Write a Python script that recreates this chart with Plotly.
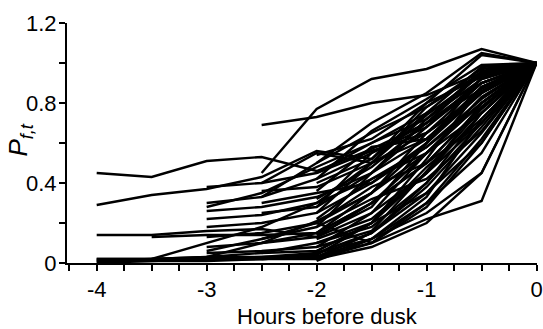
import plotly.graph_objects as go

hours = [-4, -3.5, -3, -2.5, -2, -1.5, -1, -0.5, 0]
N = None

# Each series: P_f,t at each hour (None = not yet observed)
s01 = [0.45, 0.43, 0.51, 0.53, 0.46, 0.57, 0.70, 0.87, 1.0]
s02 = [0.29, 0.34, 0.37, 0.43, 0.56, 0.52, 0.75, 0.90, 1.0]
s03 = [0.14, 0.14, 0.16, 0.17, 0.13, 0.30, 0.55, 0.80, 1.0]
s04 = [0.02, 0.02, 0.03, 0.03, 0.05, 0.12, 0.30, 0.62, 1.0]
s05 = [0.01, 0.01, 0.02, 0.02, 0.02, 0.10, 0.22, 0.31, 1.0]
s06 = [0.01, 0.02, 0.03, 0.10, 0.21, 0.35, 0.55, 0.75, 1.0]
s07 = [0.00, 0.01, 0.01, 0.02, 0.03, 0.15, 0.40, 0.70, 1.0]
s08 = [0.02, 0.02, 0.02, 0.03, 0.04, 0.20, 0.45, 0.80, 1.0]
s09 = [N, 0.13, 0.14, 0.14, 0.15, 0.35, 0.60, 0.85, 1.0]
s10 = [N, 0.02, 0.10, 0.18, 0.30, 0.50, 0.65, 0.90, 1.0]
s11 = [N, N, 0.30, 0.33, 0.42, 0.55, 0.70, 0.95, 1.0]
s12 = [N, N, 0.28, 0.35, 0.48, 0.60, 0.72, 0.92, 1.0]
s13 = [N, N, 0.26, 0.28, 0.33, 0.45, 0.62, 0.85, 1.0]
s14 = [N, N, 0.22, 0.24, 0.30, 0.42, 0.55, 0.80, 1.0]
s15 = [N, N, 0.38, 0.40, 0.55, 0.50, 0.78, 0.95, 1.0]
s16 = [N, N, 0.08, 0.10, 0.13, 0.25, 0.45, 0.75, 1.0]
s17 = [N, N, 0.06, 0.12, 0.20, 0.38, 0.50, 0.70, 1.0]
s18 = [N, N, 0.03, 0.05, 0.10, 0.20, 0.35, 0.60, 1.0]
s19 = [N, N, 0.13, 0.15, 0.20, 0.10, 0.30, 0.55, 1.0]
s20 = [N, N, 0.02, 0.02, 0.03, 0.12, 0.25, 0.45, 1.0]
s21 = [N, N, N, 0.69, 0.73, 0.80, 0.84, 0.95, 1.0]
s22 = [N, N, N, 0.45, 0.77, 0.92, 0.97, 1.07, 1.0]
s23 = [N, N, N, 0.40, 0.45, 0.56, 0.65, 0.85, 1.0]
s24 = [N, N, N, 0.36, 0.38, 0.50, 0.62, 0.88, 1.0]
s25 = [N, N, N, 0.30, 0.35, 0.40, 0.58, 0.82, 1.0]
s26 = [N, N, N, 0.10, 0.15, 0.30, 0.50, 0.78, 1.0]
s27 = [N, N, N, 0.05, 0.06, 0.20, 0.48, 0.72, 1.0]
s28 = [N, N, N, 0.02, 0.03, 0.15, 0.35, 0.65, 1.0]
s29 = [N, N, N, N, 0.54, 0.62, 0.80, 1.04, 1.0]
s30 = [N, N, N, N, 0.50, 0.70, 0.85, 1.05, 1.0]
s31 = [N, N, N, N, 0.45, 0.60, 0.75, 0.98, 1.0]
s32 = [N, N, N, N, 0.40, 0.52, 0.80, 0.93, 1.0]
s33 = [N, N, N, N, 0.32, 0.48, 0.70, 0.90, 1.0]
s34 = [N, N, N, N, 0.25, 0.40, 0.60, 0.88, 1.0]
s35 = [N, N, N, N, 0.20, 0.35, 0.65, 0.85, 1.0]
s36 = [N, N, N, N, 0.15, 0.30, 0.50, 0.78, 1.0]
s37 = [N, N, N, N, 0.12, 0.22, 0.45, 0.70, 1.0]
s38 = [N, N, N, N, 0.10, 0.18, 0.40, 0.75, 1.0]
s39 = [N, N, N, N, 0.08, 0.25, 0.55, 0.83, 1.0]
s40 = [N, N, N, N, 0.05, 0.15, 0.38, 0.68, 1.0]
s41 = [N, N, N, N, 0.03, 0.10, 0.28, 0.60, 1.0]
s42 = [N, N, N, N, 0.02, 0.08, 0.20, 0.45, 1.0]
s43 = [N, N, N, N, 0.01, 0.12, 0.33, 0.72, 1.0]
s44 = [N, N, N, N, 0.28, 0.55, 0.68, 0.92, 1.0]
s45 = [N, N, N, N, 0.18, 0.45, 0.72, 0.96, 1.0]
s46 = [N, N, N, 0.33, 0.50, 0.65, 0.78, 0.97, 1.0]
s47 = [N, N, N, 0.25, 0.28, 0.45, 0.68, 0.90, 1.0]
s48 = [N, N, 0.18, 0.20, 0.25, 0.50, 0.74, 0.94, 1.0]
s49 = [N, N, N, N, 0.36, 0.58, 0.62, 0.86, 1.0]
s50 = [N, N, N, N, 0.22, 0.42, 0.58, 0.80, 1.0]
s51 = [N, N, N, N, 0.06, 0.20, 0.52, 0.88, 1.0]
s52 = [N, N, N, 0.12, 0.18, 0.32, 0.42, 0.66, 1.0]
s53 = [N, N, N, N, 0.42, 0.66, 0.82, 0.99, 1.0]
s54 = [N, N, N, N, 0.14, 0.28, 0.60, 0.93, 1.0]
s55 = [N, N, 0.05, 0.06, 0.08, 0.16, 0.46, 0.77, 1.0]

series = [s01, s02, s03, s04, s05, s06, s07, s08, s09, s10,
          s11, s12, s13, s14, s15, s16, s17, s18, s19, s20,
          s21, s22, s23, s24, s25, s26, s27, s28, s29, s30,
          s31, s32, s33, s34, s35, s36, s37, s38, s39, s40,
          s41, s42, s43, s44, s45, s46, s47, s48, s49, s50,
          s51, s52, s53, s54, s55]

ytick_vals = [0, 0.4, 0.8, 1.2]
ytick_text = ["0", "0.4", "0.8", "1.2"]
xtick_vals = [-4, -3, -2, -1, 0]
xtick_text = ["-4", "-3", "-2", "-1", "0"]

fig = go.Figure()
for s in series:
    fig.add_trace(go.Scatter(x=hours, y=s, mode="lines",
                             line=dict(color="black", width=2.4),
                             connectgaps=False, showlegend=False,
                             hoverinfo="skip", cliponaxis=False))

font = dict(family="Liberation Sans, Arial, sans-serif", size=22, color="black")

fig.update_layout(
    width=543, height=329,
    margin=dict(l=67, r=0, t=23, b=66),
    plot_bgcolor="white", paper_bgcolor="white",
    font=font,
    xaxis=dict(range=[-4.27, 0.004], showgrid=False, zeroline=False,
               showline=True, linecolor="black", linewidth=2,
               ticks="outside", ticklen=6, tickwidth=2, tickcolor="black",
               tickvals=xtick_vals, ticktext=xtick_text,
               ticklabeloverflow="allow",
               minor=dict(dtick=0.25, tick0=0, ticks="outside", ticklen=6,
                          tickwidth=2, tickcolor="black", showgrid=False),
               tickfont=font),
    yaxis=dict(range=[0, 1.2], showgrid=False, zeroline=False,
               showline=True, linecolor="black", linewidth=2,
               ticks="outside", ticklen=6, tickwidth=2, tickcolor="black",
               tickvals=ytick_vals, ticktext=ytick_text,
               ticklabeloverflow="allow", ticklabelstandoff=-2,
               minor=dict(dtick=0.2, tick0=0, ticks="outside", ticklen=6,
                          tickwidth=2, tickcolor="black", showgrid=False),
               tickfont=font),
    annotations=[
        dict(text="Hours before dusk", xref="paper", yref="paper",
             x=0.554, y=0, xanchor="center", yanchor="middle",
             yshift=-53, showarrow=False, font=font),
        dict(text="<i>P</i><sub><i>f,t</i></sub>", xref="paper", yref="paper",
             x=0, y=0.51, xanchor="center", yanchor="middle",
             xshift=-47, textangle=-90, showarrow=False,
             font=dict(family="Liberation Sans, Arial, sans-serif", size=26, color="black")),
    ],
)

fig.write_html("out.html")
